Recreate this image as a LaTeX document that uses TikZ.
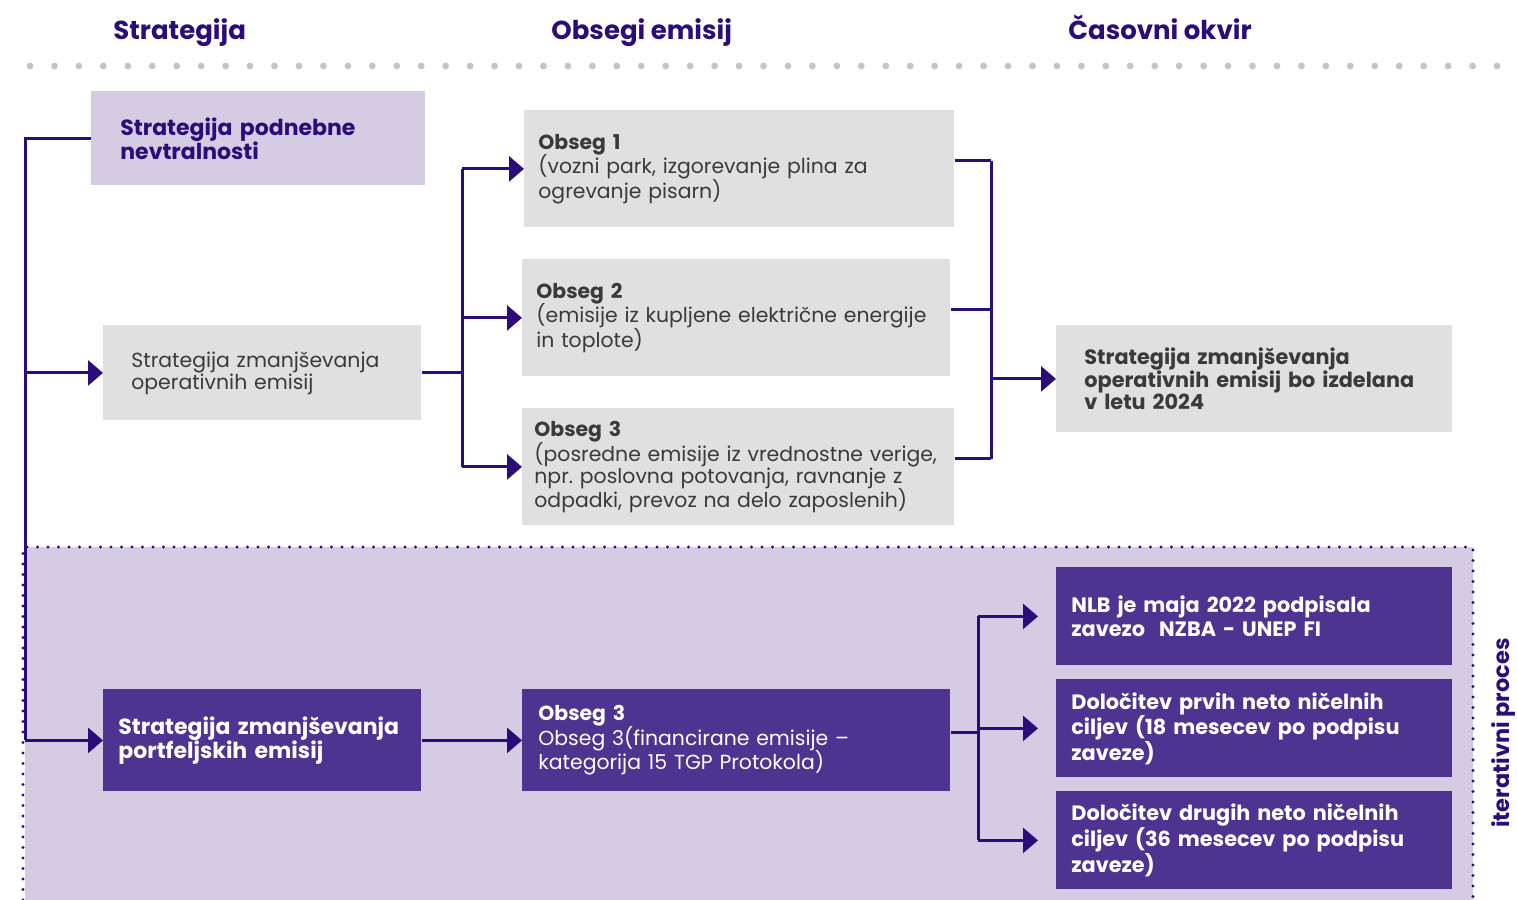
\documentclass[tikz,border=0pt]{standalone}
\usepackage{fontspec}
\setmainfont{Poppins}
\usetikzlibrary{arrows.meta,calc}

\definecolor{nlbdark}{HTML}{2B0C78}
\definecolor{nlbviolet}{HTML}{4E3390}
\definecolor{nlblilac}{HTML}{D5CCE4}
\definecolor{nlbgrey}{HTML}{E0E0E0}
\definecolor{nlbtext}{HTML}{3A3A3A}
\definecolor{nlbdots}{HTML}{C4C4C4}

\tikzset{
  box/.style={anchor=north west, align=left, inner ysep=0pt, font=\fontsize{10.2}{12}\selectfont},
  greybox/.style={box, fill=nlbgrey, text=nlbtext},
  darkbox/.style={box, fill=nlbviolet, text=white, font=\fontsize{10.4}{12.2}\selectfont\bfseries},
  bigbold/.style={font=\fontsize{11}{12.4}\selectfont\bfseries},
  head/.style={anchor=base west, inner sep=0pt, text=nlbdark, font=\fontsize{13}{15}\selectfont\bfseries},
  link/.style={draw=nlbdark, line width=1.5pt},
  arrow/.style={link, -{Triangle[length=7.5pt,width=12.5pt]}},
}

\begin{document}
\frenchspacing
\begin{tikzpicture}[x=0.5pt,y=-0.5pt]
  \useasboundingbox (0,0) rectangle (1517,900);

  % iterative area
  \fill[nlblilac] (25,547) rectangle (1473,900);
  \draw[nlbdark, line width=1.6pt, line cap=round, dash pattern=on 0pt off 5.25pt]
    (23,900) -- (23,547) -- (1473,547) -- (1473,900);

  % headings
  \node[head] (hstrat) at (113,39) {Strategija};
  \node[head] (hscope) at (551,39) {Obsegi emisij};
  \node[head] (htime) at (1068,39) {Časovni okvir};
  \foreach \i in {0,...,60} {
    \fill[nlbdots] (30+\i*24.45,66) circle (1.7pt);}

  % strategies
  \node[box, bigbold, fill=nlblilac, text=nlbdark,
        inner xsep=14.5pt, text width=138pt, minimum height=47pt] (neutral) at (91,91)
    {Strategija podnebne\\[-0.5pt]nevtralnosti};
  \node[greybox, inner xsep=14pt, text width=131pt, minimum height=47.5pt] (oper) at (103,325)
    {Strategija zmanjševanja\\[-1pt]operativnih emisij};
  \node[darkbox, bigbold, inner xsep=7.5pt, text width=144pt, minimum height=51pt] (portf) at (103,689)
    {Strategija zmanjševanja\\[-0.5pt]portfeljskih emisij};

  % scopes
  \node[greybox, inner xsep=7pt, text width=201pt, minimum height=58.5pt] (scope1) at (524,110)
    {\textbf{Obseg 1}\\[-1pt](vozni park, izgorevanje plina za\\[-1pt]ogrevanje pisarn)};
  \node[greybox, inner xsep=7pt, text width=200pt, minimum height=58.5pt] (scope2) at (522,259)
    {\textbf{Obseg 2}\\[-1pt](emisije iz kupljene električne energije\\[-1pt]in toplote)};
  \node[greybox, inner xsep=6pt, text width=204pt, minimum height=58.5pt] (scope3) at (522,408)
    {\textbf{Obseg 3}\\[-1pt](posredne emisije iz vrednostne verige,\\[-1pt]npr. poslovna potovanja, ravnanje z\\[-1pt]odpadki, prevoz na delo zaposlenih)};
  \node[box, fill=nlbviolet, text=white, inner xsep=8pt, text width=198pt, minimum height=51pt] (scope3f) at (522,689)
    {\textbf{Obseg 3}\\[-1pt]Obseg 3(financirane emisije –\\[-1pt]kategorija 15 TGP Protokola)};

  % time frame
  \node[greybox, font=\fontsize{10.4}{12.2}\selectfont\bfseries, inner xsep=14pt, text width=170pt,
        minimum height=53.5pt] (timeline) at (1056,325)
    {Strategija zmanjševanja\\[-1pt]operativnih emisij bo izdelana\\[-1pt]v letu 2024};
  \node[darkbox, inner xsep=7.5pt, text width=183pt, minimum height=49pt] (nzba) at (1056,567)
    {NLB je maja 2022 podpisala\\[-0.5pt]zavezo \ NZBA - UNEP FI};
  \node[darkbox, inner xsep=7.5pt, text width=183pt, minimum height=49pt] (first) at (1056,679)
    {Določitev prvih neto ničelnih\\[-0.5pt]ciljev (18 mesecev po podpisu\\[-0.5pt]zaveze)};
  \node[darkbox, inner xsep=7.5pt, text width=183pt, minimum height=49pt] (second) at (1056,791)
    {Določitev drugih neto ničelnih\\[-0.5pt]ciljev (36 mesecev po podpisu\\[-0.5pt]zaveze)};

  \node[rotate=90, text=nlbdark, font=\fontsize{11.2}{13}\selectfont\bfseries] (iter) at (1503,733)
    {iterativni proces};

  % connectors
  \coordinate (trunk) at (25,0);
  \coordinate (split) at (462,0);
  \coordinate (merge) at (991,0);
  \coordinate (fan) at (978,0);

  \draw[link] (neutral.west) -| (trunk |- portf.west);
  \foreach \n in {oper,portf}
    \draw[arrow] (trunk |- \n.west) -- (\n.west);

  \draw[link] (oper.east) -- (split |- oper.east);
  \draw[link] (split |- scope1.west) -- (split |- scope3.west);
  \foreach \n in {scope1,scope2,scope3}
    \draw[arrow] (split |- \n.west) -- (\n.west);

  \foreach \n in {scope1,scope2,scope3}
    \draw[link] ([yshift=4pt]\n.east) -- ([yshift=4pt]merge |- \n.east);
  \draw[link] ([yshift=4pt]merge |- scope1.east) -- ([yshift=4pt]merge |- scope3.east);
  \draw[arrow] (merge |- timeline.west) -- (timeline.west);

  \draw[arrow] (portf.east) -- (scope3f.west);
  \draw[link] ([yshift=4pt]scope3f.east) -- ([yshift=4pt]fan |- scope3f.east);
  \draw[link] (fan |- nzba.west) -- (fan |- second.west);
  \foreach \n in {nzba,first,second}
    \draw[arrow, shorten >=9pt] (fan |- \n.west) -- (\n.west);
\end{tikzpicture}
\end{document}
